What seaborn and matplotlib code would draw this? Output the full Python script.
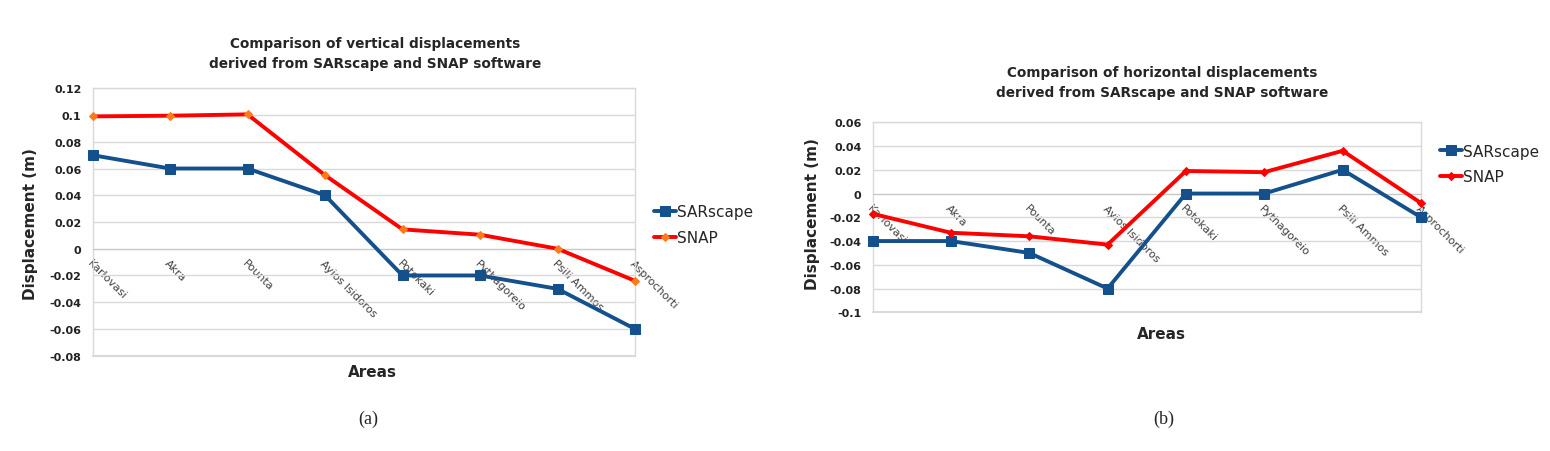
import numpy as np
import pandas as pd
import seaborn as sns
import matplotlib
matplotlib.use("Agg")
import matplotlib.pyplot as plt
from matplotlib.ticker import FuncFormatter

areas = ["Karlovasi", "Akra", "Pounta", "Ayios Isidoros", "Potokaki",
         "Pythagoreio", "Psili Ammos", "Asprochorti"]

vert_sarscape = [0.07, 0.06, 0.06, 0.04, -0.02, -0.02, -0.03, -0.06]
vert_snap = [0.099, 0.0995, 0.1005, 0.055, 0.0145, 0.0105, 0.0, -0.024]

horiz_sarscape = [-0.04, -0.04, -0.05, -0.08, 0.0, 0.0, 0.02, -0.02]
horiz_snap = [-0.017, -0.033, -0.036, -0.043, 0.019, 0.018, 0.036, -0.008]

vert_ticks = [-0.08, -0.06, -0.04, -0.02, 0, 0.02, 0.04, 0.06, 0.08, 0.1, 0.12]
horiz_ticks = [-0.1, -0.08, -0.06, -0.04, -0.02, 0, 0.02, 0.04, 0.06]

sns.set_style("white")
plt.rcParams['font.family'] = ['DejaVu Sans']

W, H = 1550, 452
fig = plt.figure(figsize=(W / 100, H / 100), dpi=100)

blue = "#14508c"
red = "#ff0000"


def px_axes(x0, x1, y0, y1):
    return fig.add_axes([x0 / W, 1 - y1 / H, (x1 - x0) / W, (y1 - y0) / H])


def draw(ax, sar, snap, ticks, snap_marker_color):
    x = np.arange(len(areas))
    df = pd.DataFrame({"x": x, "SARscape": sar, "SNAP": snap})
    sns.lineplot(data=df, x="x", y="SARscape", ax=ax, color=blue, lw=2.8,
                 marker="s", markersize=7, markeredgecolor=blue, label="SARscape",
                 clip_on=False, zorder=3)
    sns.lineplot(data=df, x="x", y="SNAP", ax=ax, color=red, lw=2.8,
                 marker="D", markersize=4.5, markerfacecolor=snap_marker_color,
                 markeredgecolor=snap_marker_color, label="SNAP",
                 clip_on=False, zorder=4)
    ax.set_xlim(0, len(areas) - 1)
    ax.set_ylim(ticks[0], ticks[-1])
    ax.set_yticks(ticks)
    ax.yaxis.set_major_formatter(FuncFormatter(lambda v, p: f"{round(v, 4):g}"))
    ax.grid(axis="y", color="#d9d9d9", lw=1)
    ax.axhline(ticks[0], color="#d9d9d9", lw=1.5, clip_on=False, zorder=1)
    ax.set_axisbelow(True)
    for s in ["left", "right", "top"]:
        ax.spines[s].set_color("#d9d9d9")
        ax.spines[s].set_linewidth(1)
    ax.spines["bottom"].set_position(("data", 0))
    ax.spines["bottom"].set_color("#c8c8c8")
    ax.set_xticks(x)
    ax.set_xticklabels(areas, rotation=-45, ha="left", va="top",
                       rotation_mode="anchor", fontsize=8, color="#404040")
    ax.tick_params(axis="x", direction="inout", length=5, color="#c8c8c8", pad=4)
    ax.tick_params(axis="y", length=0, pad=8)
    for t in ax.get_yticklabels():
        t.set_fontweight("bold")
        t.set_fontsize(8)
        t.set_color("#222222")
    ax.set_xlabel("")
    ax.set_ylabel("")


# (a) vertical
ax1 = px_axes(92.5, 635, 89.3, 356.7)
draw(ax1, vert_sarscape, vert_snap, vert_ticks, "#ff7a1a")
ax1.legend(loc="center left", bbox_to_anchor=(1.01, 0.49), frameon=False,
           fontsize=11, handlelength=1.4, handletextpad=0.1, labelspacing=0.7)

# (b) horizontal
ax2 = px_axes(872.5, 1421, 123.3, 313.3)
draw(ax2, horiz_sarscape, horiz_snap, horiz_ticks, red)
ax2.legend(loc="center left", bbox_to_anchor=(1.01, 0.78), frameon=False,
           fontsize=11, handlelength=1.4, handletextpad=0.1, labelspacing=0.7)

# titles
fig.text(375 / W, 1 - 54 / H,
         "Comparison of vertical displacements\nderived from SARscape and SNAP software",
         ha="center", va="center", fontsize=9.8, fontweight="bold", linespacing=1.5)
fig.text(1162 / W, 1 - 83 / H,
         "Comparison of horizontal displacements\nderived from SARscape and SNAP software",
         ha="center", va="center", fontsize=9.8, fontweight="bold", linespacing=1.5)

# axis titles
fig.text(372 / W, 1 - 373 / H, "Areas", ha="center", va="center",
         fontsize=11, fontweight="bold")
fig.text(1161 / W, 1 - 335 / H, "Areas", ha="center", va="center",
         fontsize=11, fontweight="bold")
fig.text(31 / W, 1 - 224 / H, "Displacement (m)", ha="center", va="center",
         rotation=90, fontsize=11, fontweight="bold")
fig.text(813 / W, 1 - 214 / H, "Displacement (m)", ha="center", va="center",
         rotation=90, fontsize=11, fontweight="bold")

# panel captions
fig.text(368 / W, 1 - 419 / H, "(a)", ha="center", va="center", fontsize=13,
         family=["Liberation Serif", "DejaVu Serif"])
fig.text(1164 / W, 1 - 419 / H, "(b)", ha="center", va="center", fontsize=13,
         family=["Liberation Serif", "DejaVu Serif"])

fig.savefig("out.png", dpi=100)
